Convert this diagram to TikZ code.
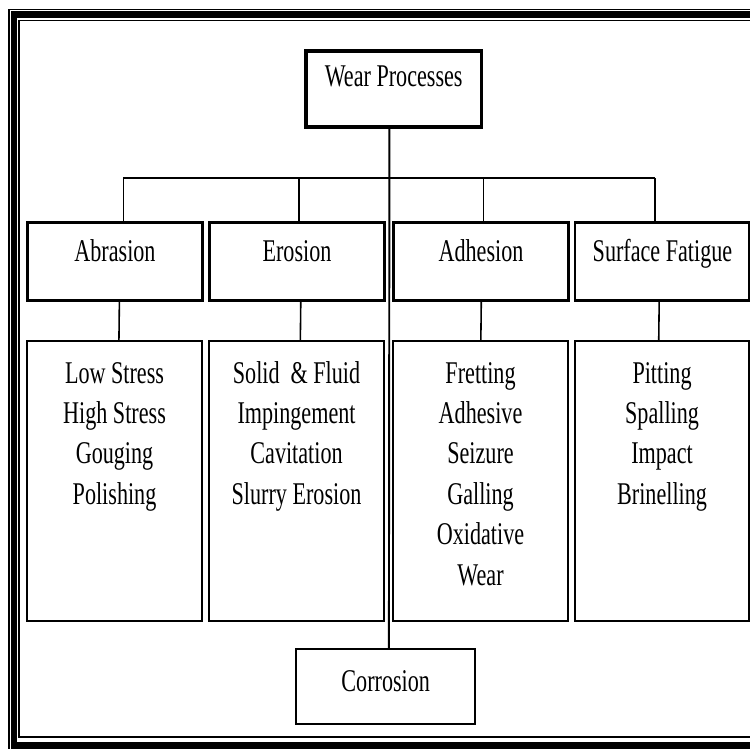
\documentclass[tikz,border=0pt]{standalone}
\usepackage{fontspec}
\setmainfont{Liberation Serif}
\usepackage{graphicx}
\usetikzlibrary{calc}

\newcommand{\narrowtxt}[1]{\scalebox{0.7}[1]{#1}}
\newcommand{\itemlist}[1]{\narrowtxt{\begin{tabular}[t]{@{}c@{}}#1\end{tabular}}}

\begin{document}
\begin{tikzpicture}[
    x=0.02cm, y=-0.02cm,
    every node/.style={font=\fontsize{18}{23}\selectfont, inner sep=0pt},
    rootbox/.style={rectangle, draw=black, line width=2pt, minimum width=3.52cm, minimum height=1.52cm, text height=0.72cm, text depth=0.80cm, anchor=north west},
    classbox/.style={rectangle, draw=black, line width=1.7pt, minimum width=3.5cm, minimum height=1.56cm, text height=0.78cm, text depth=0.78cm, anchor=north west},
    listbox/.style={rectangle, draw=black, line width=1.2pt, minimum width=3.5cm, minimum height=5.6cm, text height=0.84cm, text depth=4.76cm, anchor=north west},
    corrbox/.style={rectangle, draw=black, line width=1.4pt, minimum width=3.58cm, minimum height=1.5cm, text height=0.854cm, text depth=0.646cm, anchor=north west},
    link/.style={draw=black, line width=0.9pt},
    trunk/.style={draw=black, line width=1.1pt}
]
\useasboundingbox (0,0) rectangle (750,748);

% Page frame
\draw[line width=5.1pt] (12.8,13.3) rectangle (780,746.2);
\draw[white, line width=0.5pt] (10.3,10.8) rectangle (780,749);
\draw[line width=1.1pt] (19.3,20.5) rectangle (780,737.2);

% Nodes
\node[rootbox] (wear) at (304,49) {\narrowtxt{Wear Processes}};

\node[classbox] (abr) at (26,221) {\narrowtxt{Abrasion}};
\node[classbox] (ero) at (208,221) {\narrowtxt{Erosion}};
\node[classbox] (adh) at (392,221) {\narrowtxt{Adhesion}};
\node[classbox] (sur) at (573.5,221) {\narrowtxt{Surface Fatigue}};

\node[listbox] (abrList) at (26,340) {\itemlist{Low Stress\\High Stress\\Gouging\\Polishing}};
\node[listbox] (eroList) at (208,340) {\itemlist{Solid\ \ \& Fluid\\Impingement\\Cavitation\\Slurry Erosion}};
\node[listbox] (adhList) at (392,340) {\itemlist{Fretting\\Adhesive\\Seizure\\Galling\\Oxidative\\Wear}};
\node[listbox] (surList) at (573.5,340) {\itemlist{Pitting\\Spalling\\Impact\\Brinelling}};

\node[corrbox] (corr) at (295,648) {\narrowtxt{Corrosion}};

% Connectors
\draw[trunk] ($(wear.south)+(-4.3,0)$) -- ($(corr.north)+(3.2,0)$);
\draw[link] ($(abr.north)+(8.4,-43)$) -- ($(sur.north)+(-7.7,-43)$);
\foreach \n/\dx in {abr/8.4, ero/2.2, adh/2.7, sur/-7.7}
  \draw[link] ($(\n.north)+(\dx,0)$) -- ++(0,-43);
\foreach \a/\b/\dx in {abr/abrList/4.4, ero/eroList/3.8, adh/adhList/0.3, sur/surList/-3.3}
  \draw[link] ($(\a.south)+(\dx,0)$) -- ($(\b.north)+(\dx,0)$);

\end{tikzpicture}
\end{document}
